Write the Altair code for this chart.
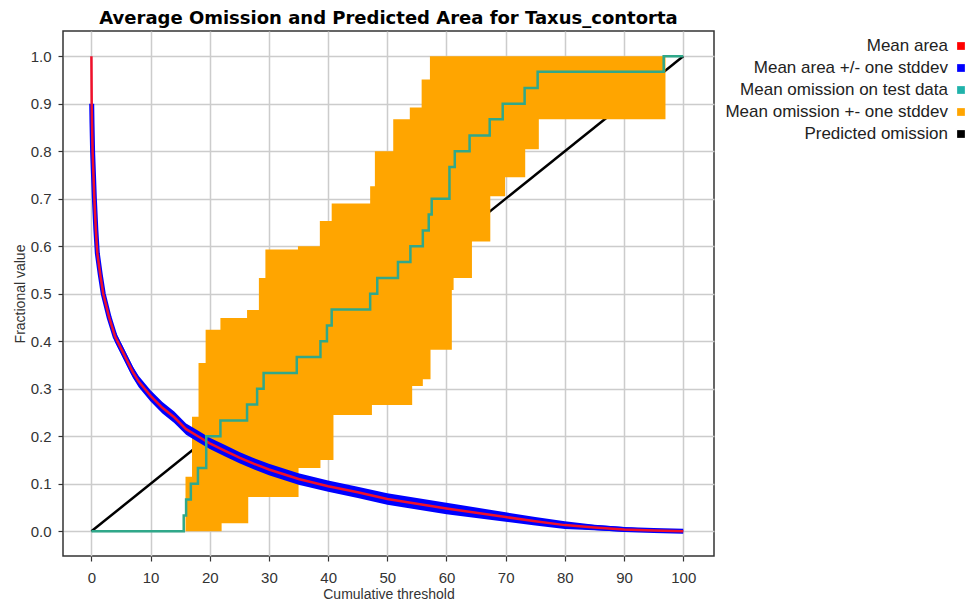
import altair as alt
import pandas as pd

# ---- data ----
# Mean predicted area (fraction) vs cumulative threshold
area_x = [0, 0.05, 0.1, 0.2, 0.35, 0.5, 0.75, 1.0, 1.5, 2, 3, 4, 5, 6, 7, 8, 10, 12, 14, 16,
          18, 20, 22.5, 25, 27.5, 30, 35, 40, 45, 50, 55, 60, 65, 70, 75, 80, 85, 90, 95, 100]
area_mean = [1.0, 0.90, 0.86, 0.80, 0.75, 0.70, 0.635, 0.585, 0.54, 0.50, 0.45, 0.41, 0.385, 0.36,
             0.335, 0.315, 0.285, 0.26, 0.24, 0.215, 0.20, 0.185, 0.17, 0.155, 0.142, 0.13, 0.11,
             0.095, 0.082, 0.068, 0.058, 0.048, 0.039, 0.030, 0.021, 0.013, 0.008, 0.004, 0.0015, 0.0]
area_sd = [0.0, 0.008, 0.01, 0.012, 0.012, 0.012, 0.012, 0.012, 0.012, 0.012, 0.012, 0.012, 0.012,
           0.012, 0.012, 0.012, 0.012, 0.012, 0.012, 0.012, 0.012, 0.012, 0.012, 0.012, 0.012, 0.012,
           0.012, 0.012, 0.012, 0.012, 0.012, 0.012, 0.011, 0.010, 0.009, 0.008, 0.006, 0.005, 0.003, 0.002]

# Mean omission on test data (step line)
omission_x = [0, 15.6, 16.0, 16.8, 18.0, 19.4, 21.8, 26.3, 28.0, 29.1, 34.7, 38.7, 39.8, 40.6, 47.1,
              48.3, 51.8, 53.9, 56.0, 57.0, 57.5, 60.5, 61.4, 63.9, 67.3, 69.5, 73.2, 75.4, 96.7, 100]
omission_y = [0, 0.033, 0.067, 0.1, 0.133, 0.2, 0.233, 0.267, 0.3, 0.333, 0.367, 0.4, 0.433, 0.467,
              0.5, 0.533, 0.567, 0.6, 0.633, 0.667, 0.7, 0.767, 0.8, 0.833, 0.867, 0.9, 0.933, 0.967,
              1.0, 1.0]

# Mean omission +/- one stddev band (step edges)
upper_x = [15.9, 17.0, 18.1, 19.3, 21.8, 26.3, 28.3, 29.4, 34.9, 38.6, 40.6, 47.1, 47.9, 51.0,
           53.8, 55.8, 57.2, 97.0]
upper_y = [0.115, 0.241, 0.354, 0.424, 0.449, 0.466, 0.533, 0.593, 0.60, 0.653, 0.69, 0.726,
           0.80, 0.867, 0.892, 0.951, 1.0, 1.0]
lower_x = [15.9, 22.0, 26.5, 35.0, 38.7, 40.9, 47.4, 54.2, 56.0, 57.3, 60.9, 61.2, 64.3, 67.4,
           69.9, 73.3, 75.6, 97.0]
lower_y = [0.0, 0.017, 0.072, 0.133, 0.15, 0.245, 0.266, 0.306, 0.32, 0.382, 0.508, 0.533, 0.61,
           0.705, 0.745, 0.804, 0.867, 0.867]

# Predicted omission
pred_x = [0, 100]
pred_y = [0, 1]

legend_labels = ["Mean area", "Mean area +/- one stddev", "Mean omission on test data",
                 "Mean omission +- one stddev", "Predicted omission"]
legend_colors = ["#ff0000", "#0000ff", "#20b2aa", "#ffa500", "#000000"]

TITLE = "Average Omission and Predicted Area for Taxus_contorta"

# ---- tables ----
area_df = pd.DataFrame({"x": area_x, "mean": area_mean, "sd": area_sd})
area_df["hi"] = area_df["mean"] + area_df["sd"]
area_df["lo"] = area_df["mean"] - area_df["sd"]
om_df = pd.DataFrame({"x": omission_x, "y": omission_y})
up = pd.DataFrame({"x": upper_x, "upper": upper_y})
lo = pd.DataFrame({"x": lower_x, "lower": lower_y})
xs = pd.DataFrame({"x": sorted(set(upper_x) | set(lower_x))})
band_df = pd.merge_asof(xs, up, on="x")
band_df = pd.merge_asof(band_df, lo, on="x")
pred_df = pd.DataFrame({"x": pred_x, "y": pred_y})
leg_df = pd.DataFrame({"label": legend_labels, "color": legend_colors})

XDOM = [-4.8, 105.2]
YDOM = [-0.052, 1.053]


def X(field):
    return alt.X(f"{field}:Q", scale=alt.Scale(domain=XDOM, nice=False, zero=False),
                 axis=alt.Axis(values=list(range(0, 101, 10)), title="Cumulative threshold",
                               format="d", labelPadding=9, titlePadding=2))


def Y(field):
    return alt.Y(f"{field}:Q", scale=alt.Scale(domain=YDOM, nice=False, zero=False),
                 axis=alt.Axis(values=[i / 10 for i in range(11)], title="Fractional value",
                               format=".1f", labelPadding=7, titlePadding=3))


pred = alt.Chart(pred_df).mark_line(color="black", strokeWidth=2.5).encode(x=X("x"), y=Y("y"))

band = alt.Chart(band_df).mark_area(color="#ffa500", opacity=1, interpolate="step-after").encode(
    x=X("x"), y=Y("upper"), y2="lower:Q")

blue_band = alt.Chart(area_df).mark_area(color="#0000ff", opacity=1).encode(
    x=X("x"), y=Y("hi"), y2="lo:Q")

blue_line = alt.Chart(area_df).transform_filter("datum.sd > 0").mark_line(
    color="#0000ff", strokeWidth=5).encode(x=X("x"), y=Y("mean"))

red_line = alt.Chart(area_df).mark_line(color="#f0102a", strokeWidth=2.5).encode(
    x=X("x"), y=Y("mean"))

green = alt.Chart(om_df).mark_line(color="#30a88a", strokeWidth=2.5,
                                   interpolate="step-after").encode(x=X("x"), y=Y("y"))

leg_base = alt.Chart(leg_df).transform_window(row="row_number()").transform_calculate(
    py="15 + 22 * (datum.row - 1)")

leg_text = leg_base.mark_text(align="right", baseline="middle", fontSize=17,
                              font="Liberation Sans", color="#222222").encode(
    x=alt.value(885), y=alt.Y("py:Q", scale=None, axis=None), text="label:N")

leg_sq = leg_base.mark_square(size=60, opacity=1, filled=True).encode(
    x=alt.value(898), y=alt.Y("py:Q", scale=None, axis=None),
    color=alt.Color("color:N", scale=None, legend=None))

chart = alt.layer(pred, band, blue_band, blue_line, red_line, green, leg_text, leg_sq).properties(
    width=651, height=525,
    padding={"left": 55, "top": 23, "right": 254, "bottom": 44},
    autosize=alt.AutoSizeParams(type="none"),
    background="white",
    title=alt.TitleParams(text=TITLE, font="DejaVu Sans", fontSize=18, fontWeight="bold",
                          anchor="middle", offset=3, color="black"),
).configure_view(stroke="#333333", strokeWidth=1.5).configure_axis(
    grid=True, gridColor="#cccccc", gridWidth=1.5, domain=False,
    tickColor="#333333", tickSize=5, tickWidth=1.2,
    labelFont="Liberation Sans", labelFontSize=15, labelColor="#333333",
    titleFont="Liberation Sans", titleFontSize=14, titleFontWeight="normal", titleColor="#333333",
)

chart.save("out.html", embed_options={"renderer": "svg", "actions": False})
